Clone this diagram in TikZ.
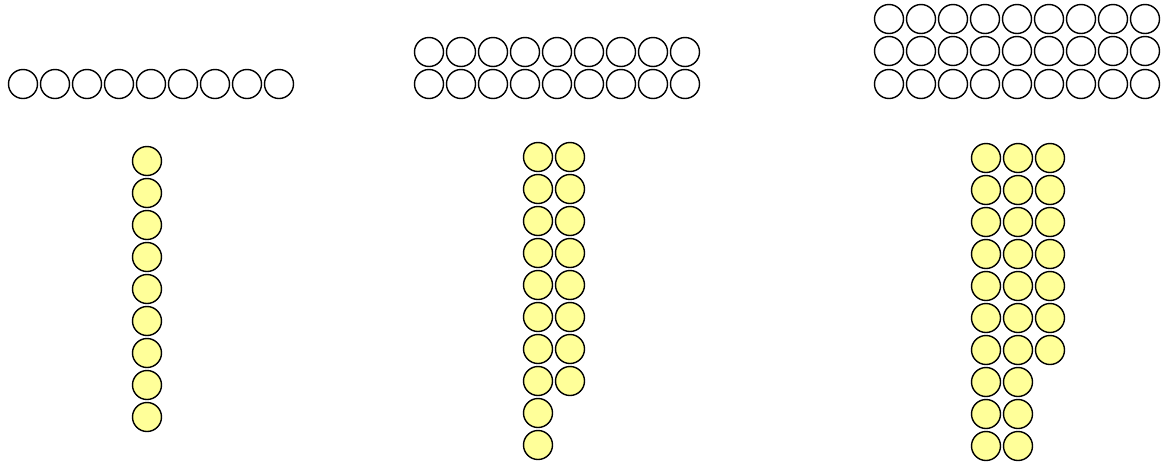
\documentclass[tikz,border=0pt]{standalone}
\usepackage{xcolor}
\usetikzlibrary{positioning}
\definecolor{beadyellow}{HTML}{FFFF99}
\begin{document}
\begin{tikzpicture}[
  x=1pt,y=-1pt,
  ring/.style={draw,circle,line width=1.4pt,minimum size=29pt,inner sep=0pt},
  bead/.style={ring,fill=beadyellow}
]
\useasboundingbox (0,0) rectangle (1169,464);

% one row of nine
\foreach \c in {0,...,8}
  \node[ring] (one-r1-\c) at (23+32*\c,84) {};
\foreach \r in {0,...,8}
  \node[bead] (one-y1-\r) at (147,161+32*\r) {};

% two rows of nine
\foreach \r/\yy in {1/52,2/84}
  \foreach \c in {0,...,8}
    \node[ring] (two-r\r-\c) at (429+32*\c,\yy) {};
\foreach \r in {0,...,9}
  \node[bead] (two-y1-\r) at (538,157+32*\r) {};
\foreach \r in {0,...,7}
  \node[bead] (two-y2-\r) at (570,157+32*\r) {};

% three rows of nine
\foreach \r/\yy in {1/19,2/51,3/84}
  \foreach \c in {0,...,8}
    \node[ring] (three-r\r-\c) at (889+32*\c,\yy) {};
\foreach \r in {0,...,9}
  \node[bead] (three-y1-\r) at (986,158+32*\r) {};
\foreach \r in {0,...,9}
  \node[bead] (three-y2-\r) at (1018,158+32*\r) {};
\foreach \r in {0,...,6}
  \node[bead] (three-y3-\r) at (1050,158+32*\r) {};
\end{tikzpicture}
\end{document}
